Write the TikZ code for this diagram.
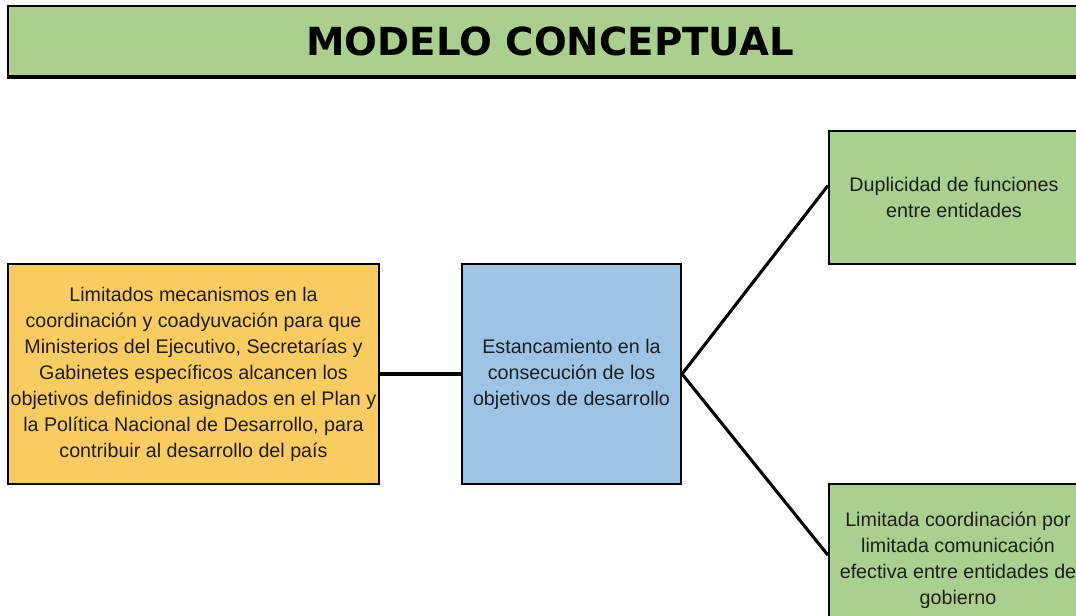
\documentclass[tikz,border=0pt]{standalone}
\usepackage{fontspec}
\setmainfont{Liberation Sans}
\newfontfamily\titulofont{DejaVu Sans}
\usetikzlibrary{arrows.meta}

\definecolor{verde}{RGB}{169,208,142}
\definecolor{amarillo}{RGB}{249,203,96}
\definecolor{azul}{RGB}{157,195,230}
\definecolor{tinta}{RGB}{30,30,30}

\begin{document}
\begin{tikzpicture}[x=0.025cm, y=-0.025cm,
    caja/.style={rectangle, draw, line width=1.4pt, align=center, inner sep=2pt, text=tinta,
                 font=\fontsize{14pt}{18.5pt}\selectfont},
    conector/.style={line width=2.2pt}]
      % Frame
      \useasboundingbox (0,0) rectangle (1076,616);
      \clip (0,0) rectangle (1076,616);

      % Title
      \node[rectangle, draw, line width=1.2pt, fill=verde, minimum width=27.1cm, minimum height=1.75cm,
            font=\titulofont\bfseries\fontsize{27.5pt}{30pt}\selectfont] (titulo) at (550,41) {MODELO CONCEPTUAL};
      \draw[line width=2.4pt] (titulo.south west) -- (titulo.south east);

      % Boxes
      \node[caja, fill=amarillo, minimum width=9.275cm, minimum height=5.5cm] (causa) at (193.5,374)
        {Limitados mecanismos en la\\ coordinación y coadyuvación para que\\ Ministerios del Ejecutivo, Secretarías y\\
         Gabinetes específicos alcancen los\\ objetivos definidos asignados en el Plan y\\
         la Política Nacional de Desarrollo, para\\ contribuir al desarrollo del país};
      \node[caja, fill=azul, minimum width=5.475cm, minimum height=5.5cm] (estanc) at (571.5,374)
        {Estancamiento en la\\ consecución de los\\ objetivos de desarrollo};
      \node[caja, fill=verde, minimum width=6.25cm, minimum height=3.325cm] (dup) at (954,197.5)
        {Duplicidad de funciones\\ entre entidades};
      \node[caja, fill=verde, minimum width=6.45cm, minimum height=3.8cm] (coord) at (958,560)
        {Limitada coordinación por\\ limitada comunicación\\ efectiva entre entidades de\\ gobierno};

      % Connectors
      \draw[conector] (causa.east) -- (estanc.west);
      \draw[conector] (estanc.east) -- ([yshift=3mm]dup.west);
      \draw[conector] (estanc.east) -- ([yshift=1.2mm]coord.west);

\end{tikzpicture}
\end{document}
